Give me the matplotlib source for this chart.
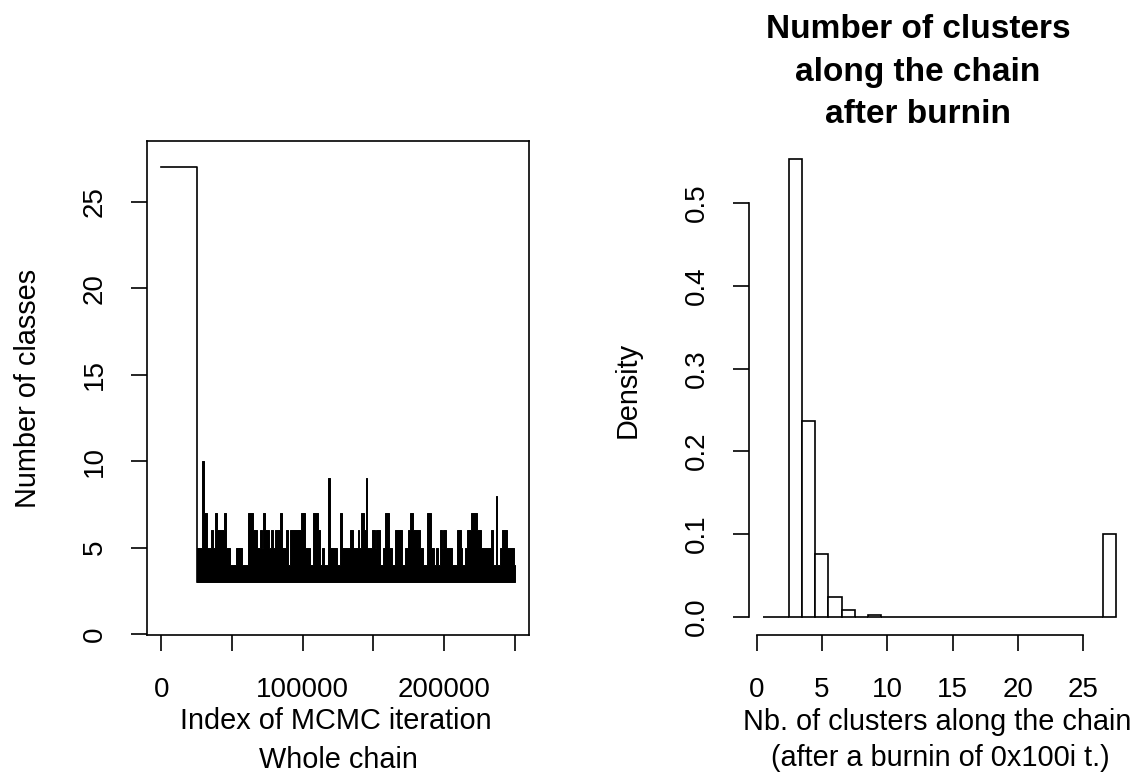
import matplotlib
matplotlib.use("Agg")
import matplotlib.pyplot as plt

plt.rcParams["font.family"] = ["Liberation Sans", "DejaVu Sans"]

# ---------------------------------------------------------------------------
# Data
# ---------------------------------------------------------------------------

# left panel: trace of the number of classes along the whole chain
init_classes = 27
burnin_end = 25000
chain_end = 250000
chain_floor = 3

# upper envelope of the post-burnin trace (chain swings between floor and this)
# segment start in thousands of iterations, and the max value in that segment
env_start_k = [
    25.0, 29.1, 30.3, 32.7, 35.5, 36.5, 37.9, 39.3, 44.3, 45.7, 48.5, 52.8,
    56.8, 61.5, 65.1, 67.5, 69.8, 71.0, 71.7, 73.4, 76.2, 77.6, 79.3,
    80.3, 83.8, 85.5, 88.5, 89.7, 90.9, 99.2, 102.0, 105.1, 107.5, 110.6,
    112.2, 113.4, 115.3, 118.1, 119.5, 124.1, 126.4, 127.6, 133.5, 135.9,
    139.4, 140.0, 141.6, 143.5, 144.9, 145.8, 148.7, 151.0, 152.2, 154.6,
    157.0, 158.1, 161.0, 162.9, 165.2, 170.0, 172.3, 174.7, 175.9, 178.3,
    183.0, 185.4, 187.7, 190.8, 192.5, 194.1, 195.5, 197.2,
    198.2, 199.3, 201.0, 205.7, 208.8, 211.6, 212.8, 214.5, 216.4, 218.7,
    223.5, 225.8, 232.9, 234.8, 236.5, 237.7, 239.6, 241.2, 244.8, 249.5,
]
env_value = [
    5, 10, 7, 5, 6, 5, 7, 6, 7, 5, 4, 5,
    4, 7, 6, 5, 6, 5, 7, 6, 5, 6, 5,
    6, 7, 5, 6, 4, 6, 7, 5, 4, 7, 6,
    4, 5, 4, 9, 5, 4, 7, 5, 6, 5,
    6, 5, 7, 6, 9, 5, 6, 5, 6, 4,
    5, 7, 5, 4, 6, 4, 5, 6, 7, 6,
    5, 4, 7, 5, 4, 5, 4, 6,
    5, 6, 5, 4, 6, 5, 4, 5, 6, 7,
    6, 5, 6, 4, 8, 4, 5, 6, 5, 4,
]

# right panel: histogram (density) of the number of clusters after burnin
cluster_bins = list(range(1, 28))
cluster_density = [
    0.0, 0.0, 0.553, 0.236, 0.076, 0.024, 0.008, 0.0, 0.002, 0.0,
    0.0, 0.0, 0.0, 0.0, 0.0, 0.0, 0.0, 0.0, 0.0, 0.0,
    0.0, 0.0, 0.0, 0.0, 0.0, 0.0, 0.100,
]

left_xticks = [0, 50000, 100000, 150000, 200000, 250000]
left_xticklabels = ["0", "", "100000", "", "200000", ""]
left_yticks = [0, 5, 10, 15, 20, 25]
right_xticks = [0, 5, 10, 15, 20, 25]
right_yticks = [0.0, 0.1, 0.2, 0.3, 0.4, 0.5]

# ---------------------------------------------------------------------------
# Layout helpers (pixel positions in the 1138 x 783 output)
# ---------------------------------------------------------------------------

W, H = 1138, 783
FS_TICK = 20
FS_LAB = 20.8
LW = 1.2


def _fx(px):
    return px / W


def _fy(py):
    return 1 - py / H


def _axes_box(x0, y0, x1, y1):
    return [_fx(x0), _fy(y1), (x1 - x0) / W, (y1 - y0) / H]


def _r_ticks(ax):
    ax.tick_params(direction="out", length=11.5, width=LW, labelsize=FS_TICK,
                   color="black")
    ax.tick_params(axis="x", pad=19)
    ax.tick_params(axis="y", pad=17, labelrotation=90)
    for lab in ax.get_yticklabels():
        lab.set_va("center")


def _label(x, y, s, **kw):
    fig.text(_fx(x), _fy(y), s, ha="center", va="baseline", fontsize=FS_LAB, **kw)


fig = plt.figure(figsize=(W / 100, H / 100), dpi=100)

# ---------------------------------------------------------------------------
# Left: trace plot
# ---------------------------------------------------------------------------
ax1 = fig.add_axes(_axes_box(147, 141, 529, 635))
ax1.plot([0, burnin_end, burnin_end], [init_classes, init_classes, chain_floor],
         color="black", lw=LW)
edges = [k * 1000 for k in env_start_k] + [chain_end]
vals = env_value + [env_value[-1]]
ax1.fill_between(edges, chain_floor, vals, step="post", color="black",
                 lw=0.7, edgecolor="black")
ax1.set_xlim(-10000, 260000)
ax1.set_ylim(-0.05, 28.5)
ax1.set_xticks(left_xticks, left_xticklabels)
ax1.set_yticks(left_yticks, [str(v) for v in left_yticks])
for sp in ax1.spines.values():
    sp.set_linewidth(LW)
_r_ticks(ax1)

fig.text(_fx(28), _fy(388), "Number of classes", rotation=90,
         ha="center", va="center", fontsize=FS_LAB)
_label(336, 729, "Index of MCMC iteration")
_label(338, 768, "Whole chain")

# ---------------------------------------------------------------------------
# Right: histogram
# ---------------------------------------------------------------------------
ax2 = fig.add_axes(_axes_box(749, 141, 1130, 635))
ax2.bar(cluster_bins, cluster_density, width=1.0, color="white",
        edgecolor="black", linewidth=LW)
ax2.set_xlim(-0.58, 28.58)
ax2.set_ylim(-0.0221, 0.575)
ax2.set_xticks(right_xticks, [str(v) for v in right_xticks])
ax2.set_yticks(right_yticks, [f"{v:.1f}" for v in right_yticks])
ax2.spines["top"].set_visible(False)
ax2.spines["right"].set_visible(False)
ax2.spines["left"].set_bounds(right_yticks[0], right_yticks[-1])
ax2.spines["bottom"].set_bounds(right_xticks[0], right_xticks[-1])
for sp in ax2.spines.values():
    sp.set_linewidth(LW)
_r_ticks(ax2)

fig.text(_fx(628), _fy(390), "Density", rotation=90,
         ha="center", va="center", fontsize=FS_LAB)
_label(937, 730, "Nb. of clusters along the chain")
_label(940, 766, "(after a burnin of 0x100i t.)")
for i, line in enumerate(["Number of clusters", "along the chain", "after burnin"]):
    fig.text(_fx(918), _fy(38 + 42.5 * i), line, ha="center", va="baseline",
             fontsize=24, fontweight="bold")

fig.savefig("out.png", dpi=100)
